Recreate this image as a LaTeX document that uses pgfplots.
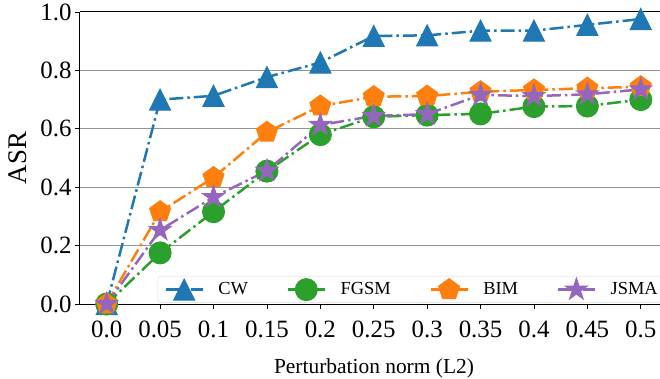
\documentclass[border=0pt]{standalone}
\usepackage{fontspec}
\setmainfont{Liberation Serif}
\usepackage{pgfplots}
\pgfplotsset{compat=1.18}
\definecolor{cwc}{HTML}{1F77B4}
\definecolor{bimc}{HTML}{FF7F0E}
\definecolor{fgsmc}{HTML}{2CA02C}
\definecolor{jsmac}{HTML}{9467BD}
\pgfdeclareplotmark{fstar}{%
  \pgfpathmoveto{\pgfpointpolar{90}{\pgfplotmarksize}}%
  \pgfpathlineto{\pgfpointpolar{126}{0.382\pgfplotmarksize}}%
  \pgfpathlineto{\pgfpointpolar{162}{\pgfplotmarksize}}%
  \pgfpathlineto{\pgfpointpolar{198}{0.382\pgfplotmarksize}}%
  \pgfpathlineto{\pgfpointpolar{234}{\pgfplotmarksize}}%
  \pgfpathlineto{\pgfpointpolar{270}{0.382\pgfplotmarksize}}%
  \pgfpathlineto{\pgfpointpolar{306}{\pgfplotmarksize}}%
  \pgfpathlineto{\pgfpointpolar{342}{0.382\pgfplotmarksize}}%
  \pgfpathlineto{\pgfpointpolar{18}{\pgfplotmarksize}}%
  \pgfpathlineto{\pgfpointpolar{54}{0.382\pgfplotmarksize}}%
  \pgfpathclose
  \pgfusepathqfillstroke}
\pgfdeclareplotmark{mtri}{%
  \pgfpathmoveto{\pgfqpoint{0pt}{\pgfplotmarksize}}%
  \pgfpathlineto{\pgfqpoint{-\pgfplotmarksize}{-\pgfplotmarksize}}%
  \pgfpathlineto{\pgfqpoint{\pgfplotmarksize}{-\pgfplotmarksize}}%
  \pgfpathclose
  \pgfusepathqfillstroke}
\begin{document}
\begin{tikzpicture}
\useasboundingbox (-80bp,-75bp) rectangle (580bp,292bp+12bp);
\begin{axis}[
  scale only axis, width=580bp, height=292bp,
  xmin=-0.5, xmax=10.36, ymin=0, ymax=1,
  axis x line*=box, axis y line*=left,
  xtick={0,1,2,3,4,5,6,7,8,9,10},
  xticklabels={\textrm{0.0},\textrm{0.05},\textrm{0.1},\textrm{0.15},\textrm{0.2},\textrm{0.25},\textrm{0.3},\textrm{0.35},\textrm{0.4},\textrm{0.45},\textrm{0.5}},
  ytick={0,0.2,0.4,0.6,0.8,1.0},
  yticklabels={\textrm{0.0},\textrm{0.2},\textrm{0.4},\textrm{0.6},\textrm{0.8},\textrm{1.0}},
  xticklabel style={font=\fontsize{25}{28}\selectfont\rmfamily, yshift=-8bp},
  yticklabel style={font=\fontsize{25}{28}\selectfont\rmfamily},
  xtick pos=left, ytick pos=left,
  tick align=outside, major tick length=5bp,
  tick style={black, line width=0.8bp},
  axis line style={black, line width=1bp},
  ymajorgrids, grid style={black!42, line width=1bp},
  /pgf/number format/assume math mode=true,
  xlabel={Perturbation norm (L2)}, ylabel={ASR},
  every axis x label/.style={at={(axis description cs:0.5,0)}, anchor=base, yshift=-69bp, xshift=4bp, font=\fontsize{21.5}{24}\selectfont},
  every axis y label/.style={at={(axis description cs:-0.107,0.5)}, rotate=90, anchor=center, font=\fontsize{27}{30}\selectfont},
  legend style={at={(0.134,0.004)}, anchor=south west, draw=black!15, rounded corners=3bp, fill=white, fill opacity=0.8, text opacity=1, draw opacity=1, font=\fontsize{18.5}{21}\selectfont,
    inner xsep=7bp, inner ysep=2bp,
    nodes={inner xsep=0bp, inner ysep=3bp},
    /tikz/every even column/.append style={column sep=39bp},
    /tikz/every odd column/.append style={column sep=14bp}},
  legend columns=4,
  legend image code/.code={\draw[mark repeat=2, mark phase=2, #1, fill opacity=1, draw opacity=1] plot coordinates {(0bp,0bp) (18bp,0bp) (37bp,0bp)};},
  every axis plot/.append style={line width=2.5bp, dash pattern=on 14bp off 4bp on 2.5bp off 4bp},
  clip=false,
]
\addplot[color=cwc, mark=mtri, mark size=10.5bp, mark options={solid, line width=1bp}] coordinates {
(0,0) (1,0.70) (2,0.713) (3,0.777) (4,0.827) (5,0.918) (6,0.92) (7,0.936) (8,0.936) (9,0.956) (10,0.976)};
\addlegendentry{CW}
\addplot[color=fgsmc, mark=*, mark size=11bp, mark options={solid, line width=1bp}] coordinates {
(0,0) (1,0.175) (2,0.316) (3,0.455) (4,0.58) (5,0.641) (6,0.647) (7,0.651) (8,0.676) (9,0.678) (10,0.70)};
\addlegendentry{FGSM}
\addplot[color=bimc, mark=pentagon*, mark size=11bp, mark options={solid, line width=1bp}] coordinates {
(0,0) (1,0.316) (2,0.433) (3,0.588) (4,0.678) (5,0.71) (6,0.712) (7,0.727) (8,0.733) (9,0.739) (10,0.744)};
\addlegendentry{BIM}
\addplot[color=jsmac, mark=fstar, mark size=11.5bp, mark options={solid, line width=1bp, fill=jsmac}] coordinates {
(0,0) (1,0.253) (2,0.366) (3,0.456) (4,0.613) (5,0.644) (6,0.65) (7,0.716) (8,0.712) (9,0.718) (10,0.735)};
\addlegendentry{JSMA}
\end{axis}
\end{tikzpicture}
\end{document}
